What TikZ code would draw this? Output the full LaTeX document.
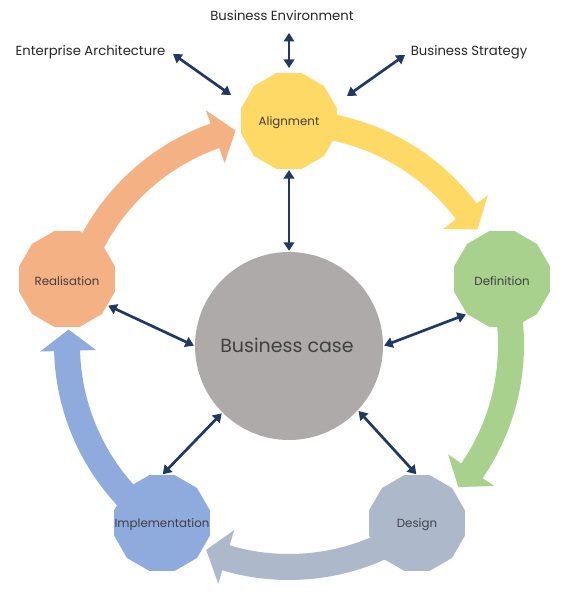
\documentclass[tikz,border=0pt]{standalone}
\usepackage{fontspec}
\setmainfont{Poppins}
\usetikzlibrary{shapes.geometric,arrows.meta}
\definecolor{cyel}{HTML}{FFD966}
\definecolor{cgrn}{HTML}{A9D18E}
\definecolor{cgry}{HTML}{ADB9CA}
\definecolor{cblu}{HTML}{8FAADC}
\definecolor{corg}{HTML}{F4B183}
\definecolor{ccir}{HTML}{AEAAAA}
\definecolor{cnavy}{HTML}{203864}
\definecolor{ctxt}{HTML}{404040}
\newcommand{\cyclearrow}[4]{%
  \fill[#1] ([shift={(#2:235)}]C) arc[start angle=#2, end angle=#3, radius=235]
    -- ([shift={(#3:249)}]C) -- ([shift={(#4:221)}]C) -- ([shift={(#3:193)}]C)
    -- ([shift={(#3:209)}]C) arc[start angle=#3, end angle=#2, radius=209] -- cycle;}
\begin{document}
\begin{tikzpicture}[x=1pt,y=1pt,
  phase/.style={regular polygon, regular polygon sides=12, minimum size=99pt, inner sep=0pt, draw=none},
  plabel/.style={text=ctxt, font=\fontsize{11.8}{13}\selectfont, yshift=-2pt},
  toplabel/.style={text=black!85, font=\fontsize{13.2}{15}\selectfont, inner sep=0pt},
  dbl/.style={cnavy, line width=2.7pt, {Triangle[length=8.5pt,width=10.5pt]}-{Triangle[length=8.5pt,width=10.5pt]}}
]
\useasboundingbox[fill=white] (0,0) rectangle (573,-604);
\coordinate (C) at (289,-345);
% cycle arrows
\cyclearrow{cyel}{90}{37}{31.5}
\cyclearrow{cgrn}{18}{-34.5}{-40}
\cyclearrow{cgry}{-54}{-106.5}{-112}
\cyclearrow{cblu}{-126}{-178.5}{-184}
\cyclearrow{corg}{162}{109.5}{104}
% nodes
\node[circle, fill=ccir, minimum size=188pt, inner sep=0pt] (bc) at (289,-346) {};
\node[text=ctxt, font=\fontsize{19}{22}\selectfont] (bct) at (287,-345) {Business case};
\node[phase, fill=cyel, label={[plabel]center:Alignment}] (al) at (289,-121) {};
\node[phase, fill=cgrn, label={[plabel]center:Definition}] (de) at (502,-279) {};
\node[phase, fill=cgry, label={[plabel]center:Design}] (ds) at (417,-523) {};
\node[phase, fill=cblu, label={[plabel]center:Implementation}] (im) at (162,-523) {};
\node[phase, fill=corg, label={[plabel]center:Realisation}] (re) at (67,-279) {};
% top labels
\node[toplabel] (be) at (282,-16) {Business Environment};
\node[toplabel] (ea) at (90.5,-52) {Enterprise Architecture};
\node[toplabel] (bs) at (469,-52) {Business Strategy};
\coordinate (beA) at (289,-33);
\coordinate (beB) at (289,-68);
\coordinate (eaA) at (173,-54);
\coordinate (eaB) at (231,-95);
\coordinate (bsA) at (405,-55);
\coordinate (bsB) at (347,-96);
\draw[dbl] (beA) -- (beB);
\draw[dbl] (eaA) -- (eaB);
\draw[dbl] (bsA) -- (bsB);
% connectors to business case
\draw[dbl, shorten <=1pt, shorten >=1pt] (al.south) -- (bc.north);
\draw[dbl, shorten <=1pt, shorten >=1pt] (de.225) -- (bc.east);
\draw[dbl, shorten <=1pt, shorten >=1pt] (ds.north) -- (bc.-43);
\draw[dbl, shorten <=1pt, shorten >=1pt] (im.north) -- (bc.-135);
\draw[dbl, shorten <=1pt, shorten >=1pt] (re.-33) -- (bc.west);
\end{tikzpicture}
\end{document}
